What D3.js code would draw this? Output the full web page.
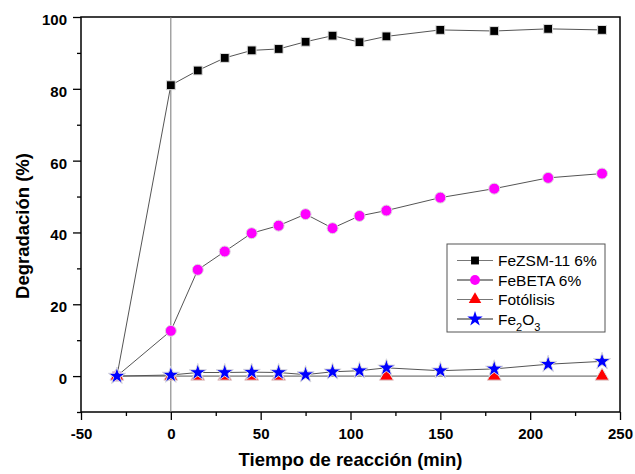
<!DOCTYPE html>
<html>
<head>
<meta charset="utf-8">
<script src="https://cdn.jsdelivr.net/npm/d3@7"></script>
<style>
  html, body { margin: 0; padding: 0; background: #fff; }
  svg text { font-family: "Liberation Sans", Arial, sans-serif; }
</style>
</head>
<body>
<div id="chart"></div>
<script>
// Degradación vs tiempo de reacción

const timesFull = [-30, 0, 15, 30, 45, 60, 75, 90, 105, 120, 150, 180, 210, 240];
const fezsm = [0, 81.0, 85.1, 88.6, 90.7, 91.1, 93.1, 94.8, 93.0, 94.6, 96.4, 96.1, 96.7, 96.4];
const febeta = [0, 12.6, 29.6, 34.7, 39.8, 41.9, 45.1, 41.2, 44.6, 46.1, 49.7, 52.2, 55.2, 56.4];
const timesFoto = [-30, 0, 15, 30, 45, 60, 120, 180, 240];
const fotolisis = [0, 0, 0, 0, 0, 0, 0, 0, 0];
const fe2o3 = [0, 0.3, 1.0, 1.0, 1.1, 1.0, 0.4, 1.2, 1.5, 2.3, 1.5, 2.0, 3.3, 4.1];
const xTicks = [-50, 0, 50, 100, 150, 200, 250];
const yTicks = [0, 20, 40, 60, 80, 100];

const W = 635, H = 474;
const margin = { top: 17, right: 15, bottom: 62, left: 81 };
const width = W - margin.left - margin.right;
const height = H - margin.top - margin.bottom;

const svg = d3.select('#chart').append('svg')
    .attr('width', W)
    .attr('height', H);
const g = svg.append('g').attr('transform', `translate(${margin.left},${margin.top})`);

const x = d3.scaleLinear().domain([-50, 250]).range([0, width]);
const y = d3.scaleLinear().domain([-10, 100]).range([height, 0]);

// minor ticks
const xMinor = d3.range(-50, 251, 25).filter(v => !xTicks.includes(v));
const yMinor = d3.range(-10, 101, 10).filter(v => !yTicks.includes(v));

g.append('g')
    .attr('transform', `translate(0,${height})`)
    .call(d3.axisBottom(x).tickValues(xMinor).tickSize(4).tickFormat(''))
    .call(a => a.select('.domain').remove())
    .selectAll('line').attr('stroke', '#000').attr('stroke-width', 1.3);
g.append('g')
    .call(d3.axisLeft(y).tickValues(yMinor).tickSize(4).tickFormat(''))
    .call(a => a.select('.domain').remove())
    .selectAll('line').attr('stroke', '#000').attr('stroke-width', 1.3);

const xAxis = g.append('g')
    .attr('transform', `translate(0,${height})`)
    .call(d3.axisBottom(x).tickValues(xTicks).tickSize(8).tickPadding(8).tickFormat(d => String(d)));
xAxis.select('.domain').remove();
xAxis.selectAll('line').attr('stroke', '#000').attr('stroke-width', 1.3);
xAxis.selectAll('text')
    .attr('font-size', 15).attr('font-weight', 'bold').attr('fill', '#000')
    .attr('font-family', '"Liberation Sans", Arial, sans-serif');

const yAxis = g.append('g')
    .call(d3.axisLeft(y).tickValues(yTicks).tickSize(8).tickPadding(6).tickFormat(d => String(d)));
yAxis.select('.domain').remove();
yAxis.selectAll('line').attr('stroke', '#000').attr('stroke-width', 1.3);
yAxis.selectAll('text')
    .attr('font-size', 15).attr('font-weight', 'bold').attr('fill', '#000')
    .attr('dy', '0.5em')
    .attr('font-family', '"Liberation Sans", Arial, sans-serif');

// frame
g.append('rect')
    .attr('x', 0).attr('y', 0)
    .attr('width', width).attr('height', height)
    .attr('fill', 'none').attr('stroke', '#000').attr('stroke-width', 1.5);

// vertical line at t = 0
g.append('line')
    .attr('x1', x(0)).attr('x2', x(0))
    .attr('y1', 0).attr('y2', height)
    .attr('stroke', '#777').attr('stroke-width', 1);

const series = [
    { name: 'FeZSM-11 6%', xs: timesFull, ys: fezsm, color: '#000000', symbol: d3.symbolSquare, size: 78 },
    { name: 'FeBETA 6%', xs: timesFull, ys: febeta, color: '#ff00ff', symbol: d3.symbolCircle, size: 95 },
    { name: 'Fotólisis', xs: timesFoto, ys: fotolisis, color: '#ff0000', symbol: d3.symbolTriangle, size: 85 },
    { name: 'Fe2O3', xs: timesFull, ys: fe2o3, color: '#0000ff', symbol: d3.symbolStar, size: 92 }
];

const line = d3.line().x(d => x(d[0])).y(d => y(d[1]));

series.forEach(s => {
    const pts = s.xs.map((t, i) => [t, s.ys[i]]);
    g.append('path')
        .datum(pts)
        .attr('d', line)
        .attr('fill', 'none')
        .attr('stroke', '#555')
        .attr('stroke-width', 1);
});

series.forEach(s => {
    const pts = s.xs.map((t, i) => [t, s.ys[i]]);
    g.selectAll(null)
        .data(pts)
        .enter()
        .append('path')
        .attr('transform', d => `translate(${x(d[0])},${y(d[1])})`)
        .attr('d', d3.symbol().type(s.symbol).size(s.size))
        .attr('fill', s.color)
        .attr('stroke', '#ddd')
        .attr('stroke-width', 1);
});

// legend
const lg = svg.append('g').attr('transform', 'translate(447,244)');
lg.append('rect')
    .attr('width', 158).attr('height', 88)
    .attr('fill', '#fff').attr('stroke', '#555').attr('stroke-width', 1);
series.forEach((s, i) => {
    const cy = 16.5 + i * 19.5;
    lg.append('line')
        .attr('x1', 10).attr('x2', 46)
        .attr('y1', cy).attr('y2', cy)
        .attr('stroke', i % 2 === 0 ? '#777' : '#222').attr('stroke-width', 1.2);
    lg.append('path')
        .attr('transform', `translate(28,${cy})`)
        .attr('d', d3.symbol().type(s.symbol).size(s.size * 0.8))
        .attr('fill', s.color);
    const t = lg.append('text')
        .attr('x', 51).attr('y', cy + 5.5)
        .attr('font-size', 15.5).attr('fill', '#000');
    if (s.name === 'Fe2O3') {
        t.append('tspan').text('Fe');
        t.append('tspan').attr('font-size', 11).attr('dy', 6).text('2');
        t.append('tspan').attr('dy', -6).text('O');
        t.append('tspan').attr('font-size', 11).attr('dy', 6).text('3');
    } else {
        t.text(s.name);
    }
});

// axis titles
svg.append('text')
    .attr('x', margin.left + width / 2)
    .attr('y', 466)
    .attr('text-anchor', 'middle')
    .attr('font-size', 18.5).attr('font-weight', 'bold')
    .text('Tiempo de reacción (min)');
svg.append('text')
    .attr('transform', `translate(28.5,226) rotate(-90)`)
    .attr('text-anchor', 'middle')
    .attr('font-size', 18.5).attr('font-weight', 'bold')
    .text('Degradación (%)');
</script>
</body>
</html>
